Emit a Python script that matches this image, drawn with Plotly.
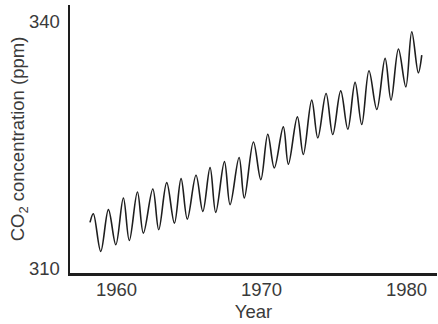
import plotly.graph_objects as go

# Seasonal turning points of the CO2 record (year, ppm)
years = [1958.17, 1958.40, 1958.91, 1959.44, 1959.95, 1960.47, 1960.88, 1961.44, 1961.85,
         1962.50, 1962.91, 1963.46, 1963.99, 1964.45, 1964.88, 1965.48, 1965.95, 1966.45,
         1966.84, 1967.44, 1967.83, 1968.45, 1968.81, 1969.44, 1969.95, 1970.43, 1970.88,
         1971.50, 1971.85, 1972.47, 1972.88, 1973.46, 1973.88, 1974.45, 1974.91, 1975.46,
         1975.95, 1976.45, 1976.91, 1977.41, 1977.95, 1978.52, 1978.93, 1979.44, 1979.95,
         1980.36, 1980.81, 1981.05]
co2_ppm = [315.61, 316.67, 312.07, 317.16, 312.89, 318.57, 313.41, 319.30, 314.30,
           319.67, 314.72, 320.45, 315.52, 320.94, 316.01, 321.34, 316.95, 322.28,
           316.83, 323.01, 317.77, 323.50, 318.57, 325.40, 320.82, 326.34, 322.23,
           327.23, 322.68, 328.45, 323.87, 330.49, 325.89, 331.30, 326.30, 331.62,
           326.95, 332.65, 327.52, 334.06, 329.35, 335.57, 330.49, 336.71, 332.11,
           338.82, 333.82, 335.98]

x_ticks = [1960, 1970, 1980]
y_ticks = [310, 340]

font_family = "Liberation Sans, Arial, Helvetica, sans-serif"
text_color = "#3a3a3a"
font_size = 18.5

fig = go.Figure()
fig.add_trace(go.Scatter(
    x=years, y=co2_ppm, mode="lines",
    line=dict(color="#1e1e1e", width=1.6, shape="spline", smoothing=1.0),
    hoverinfo="skip", showlegend=False,
))

fig.update_layout(
    width=438, height=324,
    margin=dict(l=70, r=1, t=5, b=51),
    paper_bgcolor="white", plot_bgcolor="white",
    font=dict(family=font_family, size=font_size, color=text_color),
    showlegend=False,
)
fig.update_xaxes(
    range=[1956.79, 1982.10],
    tickvals=x_ticks, ticktext=[str(v) for v in x_ticks],
    showgrid=False, zeroline=False,
    showline=True, linecolor="#1e1e1e", linewidth=2.5,
    ticks="", ticklabelstandoff=-2,
    title=dict(text="Year", standoff=7, font=dict(size=font_size, color=text_color)),
    automargin=False,
)
fig.update_yaxes(
    range=[309.45, 342.07],
    tickvals=y_ticks, ticktext=[str(v) for v in y_ticks],
    showgrid=False, zeroline=False,
    showline=True, linecolor="#1e1e1e", linewidth=2.5,
    ticks="", ticklabelstandoff=4,
    title=dict(text="CO<sub>2</sub> concentration (ppm)", standoff=0,
               font=dict(size=font_size, color=text_color)),
    automargin=False,
)

fig.write_html(
    "out.html",
    config={"displayModeBar": False, "staticPlot": True},
    post_script="document.body.style.margin='0';document.body.style.padding='0';",
)
